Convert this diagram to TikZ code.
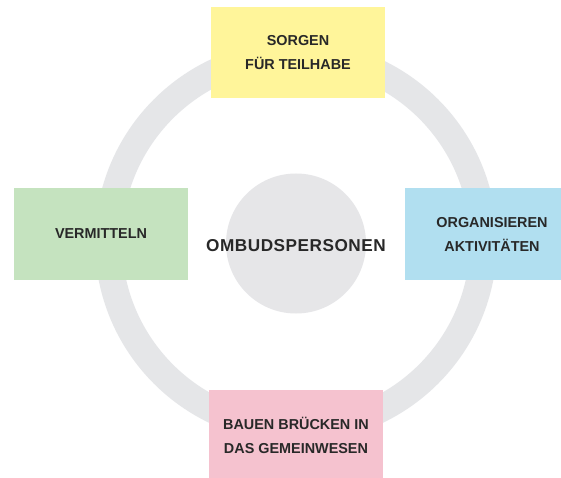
\documentclass[tikz,border=0pt]{standalone}
\usepackage{fontspec}
\setmainfont{Liberation Sans}
\definecolor{ringgray}{RGB}{229,230,232}
\definecolor{hubgray}{RGB}{230,230,232}
\definecolor{boxyellow}{RGB}{255,245,154}
\definecolor{boxgreen}{RGB}{197,227,191}
\definecolor{boxblue}{RGB}{177,223,240}
\definecolor{boxpink}{RGB}{245,194,207}
\definecolor{txt}{RGB}{40,40,40}
\tikzset{
  rolebox/.style={rectangle, minimum width=174pt, minimum height=91pt, inner sep=0pt,
    align=center, text=txt, font=\fontsize{14.4}{24}\selectfont\bfseries},
  hub/.style={circle, fill=hubgray, minimum size=140pt, inner sep=0pt},
  hublabel/.style={text=txt, font=\fontsize{17.2}{20}\selectfont\bfseries\addfontfeatures{LetterSpace=3}}
}
\begin{document}
\begin{tikzpicture}[x=1pt,y=-1pt]
\useasboundingbox (0,0) rectangle (561,478);
\clip (0,0) rectangle (561,478);
\fill[white] (0,0) rectangle (561,478);
% ring
\draw[ringgray, line width=27pt] (296,241.5) circle[radius=187.5pt];
% hub
\node[hub] (hubcircle) at (296,243.5) {};
\node[hublabel] (hub) at (296,246) {OMBUDSPERSONEN};
% boxes
\node[rolebox, fill=boxyellow] (top) at (298,52.5) {SORGEN\\FÜR TEILHABE};
\node[rolebox, fill=boxgreen] (left) at (101,234) {VERMITTELN};
\node[rolebox, fill=boxblue] (right) at (492,234) {ORGANISIEREN\\AKTIVITÄTEN};
\node[rolebox, fill=boxpink] (bottom) at (296,435.5) {BAUEN BRÜCKEN IN\\DAS GEMEINWESEN};
\end{tikzpicture}
\end{document}
